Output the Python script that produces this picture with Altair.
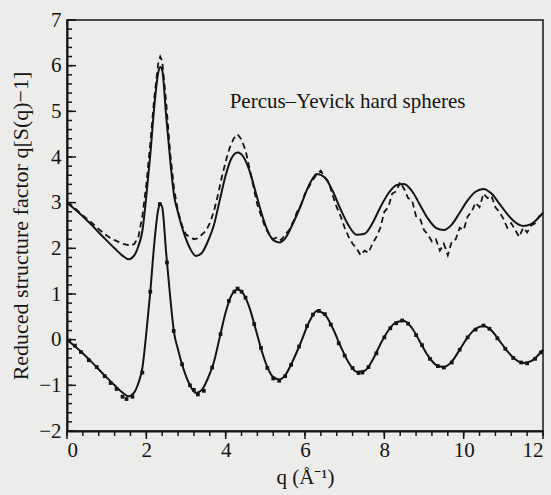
import altair as alt
import pandas as pd

# ---- data ----
OFFSET = 3.0  # upper curves are shifted up by 3 in the original figure

theory_q = [0, 0.3, 0.6, 0.9, 1.2, 1.4, 1.55, 1.7, 1.8, 1.9, 2.0, 2.1, 2.2, 2.3, 2.35, 2.4,
            2.5, 2.6, 2.7, 2.8, 2.9, 3.0, 3.1, 3.25, 3.4, 3.55, 3.7, 3.85, 4.0, 4.15, 4.3,
            4.45, 4.6, 4.75, 4.9, 5.05, 5.2, 5.35, 5.5, 5.7, 5.9, 6.1, 6.3, 6.5, 6.7, 6.9,
            7.1, 7.3, 7.5, 7.7, 7.9, 8.1, 8.3, 8.5, 8.7, 8.9, 9.1, 9.3, 9.5, 9.7, 9.9, 10.1,
            10.3, 10.5, 10.7, 10.9, 11.1, 11.3, 11.5, 11.7, 11.9, 12.0]
theory_v = [0.0, -0.22, -0.47, -0.74, -1.0, -1.16, -1.24, -1.15, -0.95, -0.62, 0.15, 1.05, 2.1,
            2.85, 2.97, 2.9, 1.9, 0.95, 0.15, -0.22, -0.54, -0.8, -1.0, -1.17, -1.1, -0.85,
            -0.5, 0.05, 0.6, 0.98, 1.1, 1.0, 0.7, 0.25, -0.22, -0.6, -0.82, -0.87, -0.78,
            -0.45, -0.05, 0.38, 0.63, 0.55, 0.25, -0.15, -0.5, -0.7, -0.68, -0.45, -0.1, 0.2,
            0.38, 0.41, 0.25, -0.05, -0.35, -0.55, -0.6, -0.48, -0.22, 0.05, 0.24, 0.3, 0.2,
            -0.02, -0.25, -0.43, -0.51, -0.47, -0.32, -0.22]

dashed_q = [0.0, 0.1, 0.2, 0.3, 0.4, 0.5, 0.6, 0.7, 0.8, 0.9, 1.0, 1.1, 1.2, 1.3, 1.4, 1.5,
            1.6, 1.7, 1.8, 1.9, 2.0, 2.1, 2.2, 2.3, 2.35, 2.4, 2.5, 2.6, 2.7, 2.8, 2.9, 3.0,
            3.1, 3.2, 3.3, 3.4, 3.5, 3.6, 3.7, 3.8, 3.9, 4.0, 4.1, 4.2, 4.3, 4.4, 4.5, 4.6,
            4.7, 4.8, 4.9, 5.0, 5.1, 5.2, 5.3, 5.4, 5.5, 5.6, 5.7, 5.8, 5.9, 6.0, 6.1, 6.2,
            6.3, 6.4, 6.5, 6.6, 6.7, 6.8, 6.9, 7.0, 7.1, 7.2, 7.3, 7.4, 7.5, 7.6, 7.7, 7.8,
            7.9, 8.0, 8.1, 8.2, 8.3, 8.4, 8.5, 8.6, 8.7, 8.8, 8.9, 9.0, 9.1, 9.2, 9.3, 9.4,
            9.5, 9.6, 9.7, 9.8, 9.9, 10.0, 10.1, 10.2, 10.3, 10.4, 10.5, 10.6, 10.7, 10.8,
            10.9, 11.0, 11.1, 11.2, 11.3, 11.4, 11.5, 11.6, 11.7, 11.8, 11.9, 12.0]
dashed_v = [0.0, -0.05, -0.12, -0.2, -0.28, -0.35, -0.42, -0.5, -0.58, -0.65, -0.72, -0.78,
            -0.82, -0.86, -0.9, -0.92, -0.95, -0.9, -0.75, -0.3, 0.4, 1.3, 2.3, 3.05, 3.2,
            3.1, 2.2, 1.1, 0.3, -0.2, -0.5, -0.7, -0.75, -0.8, -0.78, -0.7, -0.62, -0.45,
            -0.2, 0.15, 0.55, 0.9, 1.2, 1.4, 1.5, 1.38, 1.15, 0.75, 0.35, -0.05, -0.3, -0.55,
            -0.7, -0.8, -0.75, -0.82, -0.7, -0.6, -0.42, -0.2, -0.05, 0.2, 0.35, 0.5, 0.62,
            0.7, 0.55, 0.45, 0.15, -0.1, -0.3, -0.55, -0.75, -0.9, -1.0, -1.15, -1.05, -1.1,
            -0.9, -0.75, -0.55, -0.2, -0.1, 0.2, 0.25, 0.45, 0.3, 0.1, 0.05, -0.3, -0.35,
            -0.6, -0.7, -0.85, -0.8, -1.05, -0.9, -1.15, -0.85, -0.8, -0.55, -0.6, -0.3,
            -0.2, 0.0, -0.1, 0.2, 0.1, 0.15, -0.1, -0.2, -0.35, -0.55, -0.45, -0.6, -0.75,
            -0.55, -0.65, -0.5, -0.45, -0.3, -0.25]

sim_q = [0.05, 0.2, 0.35, 0.55, 0.75, 0.95, 1.1, 1.25, 1.4, 1.5, 1.65, 1.9, 2.1, 2.34, 2.52,
         2.69, 2.9, 3.1, 3.2, 3.3, 3.45, 3.66, 3.87, 4.08, 4.22, 4.3, 4.4, 4.5, 4.72, 4.89,
         5.05, 5.2, 5.35, 5.5, 5.65, 5.85, 6.05, 6.2, 6.35, 6.5, 6.65, 6.85, 7.0, 7.2, 7.35,
         7.45, 7.6, 7.8, 8.0, 8.15, 8.3, 8.45, 8.6, 8.8, 8.95, 9.15, 9.35, 9.5, 9.7, 9.9,
         10.1, 10.3, 10.5, 10.65, 10.85, 11.05, 11.25, 11.45, 11.6, 11.8, 11.95]
sim_v = [-0.02, -0.13, -0.27, -0.45, -0.6, -0.8, -0.95, -1.08, -1.25, -1.3, -1.25, -0.72, 1.05,
         2.97, 1.69, 0.19, -0.54, -1.0, -1.1, -1.2, -1.12, -0.61, 0.12, 0.85, 1.05, 1.12,
         1.05, 0.92, 0.34, -0.18, -0.62, -0.85, -0.9, -0.8, -0.55, -0.15, 0.3, 0.55, 0.63,
         0.56, 0.33, -0.08, -0.35, -0.62, -0.73, -0.72, -0.6, -0.3, 0.05, 0.25, 0.36, 0.42,
         0.35, 0.1, -0.12, -0.42, -0.58, -0.61, -0.5, -0.22, 0.05, 0.22, 0.31, 0.24, 0.03,
         -0.2, -0.4, -0.5, -0.52, -0.42, -0.28]

x_major = [0, 2, 4, 6, 8, 10, 12]
x_minor = [round(i * 0.4, 1) for i in range(31)]
y_major = [-2, -1, 0, 1, 2, 3, 4, 5, 6, 7]
y_minor = [round(-2 + i * 0.2, 1) for i in range(46)]

label_text = ["Percus\u2013Yevick hard spheres"]
label_q = [4.1]
label_y = [5.2]

# ---- build ----
W, H = 476, 411
INK = "#141414"
BG = "#ececea"

theory = pd.DataFrame({"q": theory_q, "v": theory_v})
upper = pd.DataFrame({"q": theory_q, "v": [v + OFFSET for v in theory_v]})
dashed = pd.DataFrame({"q": dashed_q, "v": [v + OFFSET for v in dashed_v]})
sim = pd.DataFrame({"q": sim_q, "v": sim_v})

xs = alt.Scale(domain=[0, 12], nice=False, zero=False)
ys = alt.Scale(domain=[-2, 7], nice=False, zero=False)

font = "Liberation Serif"

X = alt.X("q:Q", scale=xs, axis=alt.Axis(
    values=x_major, ticks=False, grid=False, domainColor=INK, domainWidth=2,
    labelFont=font, labelFontSize=21, labelColor=INK, labelPadding=8,
    title="q (\u00c5\u207b\u00b9)", titleFont=font, titleFontSize=21, titleFontWeight="normal",
    titleColor=INK, titlePadding=6))
Y = alt.Y("v:Q", scale=ys, axis=alt.Axis(
    values=y_major, ticks=False, grid=False, domainColor=INK, domainWidth=2,
    labelFont=font, labelFontSize=21, labelColor=INK, labelPadding=6,
    title="Reduced structure factor q[S(q)\u22121]", titleFont=font, titleFontSize=22,
    titleFontWeight="normal", titleColor=INK, titlePadding=6))

line_theory = alt.Chart(theory).mark_line(color=INK, strokeWidth=2, interpolate="monotone").encode(x=X, y=Y)
line_upper = alt.Chart(upper).mark_line(color=INK, strokeWidth=2, interpolate="monotone").encode(x="q:Q", y="v:Q")
line_dashed = alt.Chart(dashed).mark_line(color=INK, strokeWidth=1.8, strokeDash=[6, 4]).encode(x="q:Q", y="v:Q")
pts = alt.Chart(sim).mark_square(color=INK, size=14, opacity=1).encode(x="q:Q", y="v:Q")

def xt(vals, length):
    # ticks hang below the x axis line
    df = pd.DataFrame({"q": vals})
    return alt.Chart(df).mark_rule(color=INK, strokeWidth=1.5).encode(
        x="q:Q", y=alt.value(H), y2=alt.value(H + length))

def yt(vals, length):
    # ticks point into the plot from the y axis line
    df = pd.DataFrame({"v": vals})
    return alt.Chart(df).mark_rule(color=INK, strokeWidth=1.5).encode(
        y="v:Q", x=alt.value(0), x2=alt.value(length))

txt = alt.Chart(pd.DataFrame({"q": label_q, "v": label_y, "t": label_text})).mark_text(
    align="left", baseline="middle", font=font, fontSize=21, color=INK).encode(
    x="q:Q", y="v:Q", text="t:N")

chart = alt.layer(
    line_theory, line_upper, line_dashed, pts,
    xt(x_minor, 5), xt(x_major, 8), yt(y_minor, 5), yt(y_major, 9), txt
).properties(
    width=W, height=H,
    autosize=alt.AutoSizeParams(type="none"),
    padding={"left": 67, "top": 20, "right": 8, "bottom": 64},
    background=BG,
).configure_view(stroke=INK, strokeWidth=1.5, fill=BG)

chart.save("out.html", embed_options={"renderer": "svg", "actions": False})
